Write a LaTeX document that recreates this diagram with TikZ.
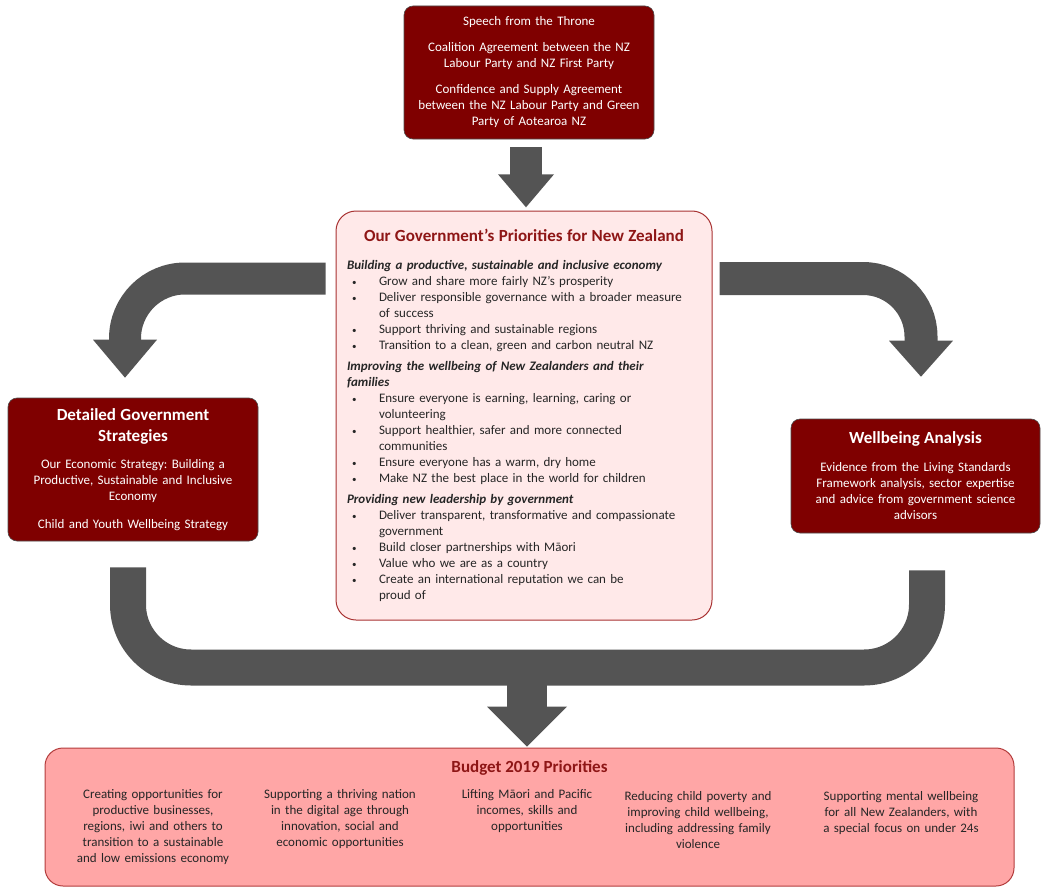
\documentclass[tikz,border=0pt]{standalone}
\usepackage{fontspec}
\setmainfont{Carlito}
\usetikzlibrary{calc}
\usetikzlibrary{positioning}
\frenchspacing

\definecolor{boxred}{HTML}{7F0000}
\definecolor{boxedge}{HTML}{4D4D4D}
\definecolor{prioedge}{HTML}{A83232}
\definecolor{priofill}{HTML}{FFE9E9}
\definecolor{budgetfill}{HTML}{FFA6A6}
\definecolor{budgetedge}{HTML}{B33C3C}
\definecolor{titlered}{HTML}{8E1616}
\definecolor{arrowgray}{HTML}{545454}
\definecolor{bodytext}{HTML}{262626}

\newcommand{\bodyfont}{\fontsize{13}{16}\selectfont}
\newcommand{\headfont}{\fontsize{17}{21}\selectfont\bfseries}
\newcommand{\prioitem}[1]{\par\hangindent=32pt\hangafter=1\noindent\makebox[32pt][l]{\hspace{5pt}{\fontsize{9}{9}\selectfont\textbullet}}#1\par}
\newcommand{\priohead}[1]{\par\noindent\textbf{\textit{#1}}\par}
\newcommand{\downhead}[3]{\fill[arrowgray] ($(#1)+(-#2,0)$) -- ($(#1)+(#2,0)$) -- ($(#1)+(0,#3)$) -- cycle;}

\tikzset{
  darkbox/.style={draw=boxedge, fill=boxred, text=white, rounded corners=9pt,
    line width=0.6pt, align=center, inner xsep=4pt, inner ysep=0pt, font=\bodyfont},
  priobox/.style={draw=prioedge, fill=priofill, text=bodytext, rounded corners=20pt,
    line width=1pt, align=left, text width=354pt, inner xsep=11pt, inner ysep=0pt,
    minimum height=409pt, font=\bodyfont},
  budgetbox/.style={draw=budgetedge, fill=budgetfill, rounded corners=18pt,
    line width=1pt, minimum width=969pt, minimum height=138pt},
  budgetcol/.style={text=bodytext, align=center, text width=180pt, inner sep=0pt,
    anchor=north, font=\bodyfont},
  shaft/.style={draw=arrowgray},
}

\begin{document}
\begin{tikzpicture}[x=1pt,y=-1pt]
  \useasboundingbox (0,0) rectangle (1050,891);

  % sources
  \node[darkbox, text width=242pt, minimum height=133pt] (top) at (529,72.5) {%
    Speech from the Throne\par\vspace{10pt}
    Coalition Agreement between the NZ\\Labour Party and NZ First Party\par\vspace{10pt}
    Confidence and Supply Agreement\\between the NZ Labour Party and Green\\Party of Aotearoa NZ};

  % priorities
  \node[priobox] (prio) at (524,415.5) {%
    {\centering\fontsize{17}{20}\selectfont\bfseries\color{titlered}%
      Our Government’s Priorities for New Zealand\par}
    \vspace{12pt}
    \priohead{Building a productive, sustainable and inclusive economy}
    \prioitem{Grow and share more fairly NZ’s prosperity}
    \prioitem{Deliver responsible governance with a broader measure\newline of success}
    \prioitem{Support thriving and sustainable regions}
    \prioitem{Transition to a clean, green and carbon neutral NZ}
    \vspace{5pt}
    \priohead{Improving the wellbeing of New Zealanders and their\newline families}
    \prioitem{Ensure everyone is earning, learning, caring or\newline volunteering}
    \prioitem{Support healthier, safer and more connected\newline communities}
    \prioitem{Ensure everyone has a warm, dry home}
    \prioitem{Make NZ the best place in the world for children}
    \vspace{5pt}
    \priohead{Providing new leadership by government}
    \prioitem{Deliver transparent, transformative and compassionate\newline government}
    \prioitem{Build closer partnerships with Māori}
    \prioitem{Value who we are as a country}
    \prioitem{Create an international reputation we can be\newline proud of}};

  % strategies and analysis
  \node[darkbox, text width=242pt, minimum height=143pt] (strat) at (133,469.5) {%
    {\headfont Detailed Government\\Strategies\par}
    \vspace{11pt}
    Our Economic Strategy: Building a\\Productive, Sustainable and Inclusive\\Economy\par
    \vspace{12pt}
    Child and Youth Wellbeing Strategy};
  \node[darkbox, text width=241pt, minimum height=114pt] (wb) at (915.5,476) {%
    {\headfont Wellbeing Analysis\par}
    \vspace{12pt}
    Evidence from the Living Standards\\Framework analysis, sector expertise\\and advice from government science\\advisors};

  % budget
  \node[budgetbox] (budget) at (529.5,817) {};
  \node[font=\headfont, text=titlered, inner sep=0pt, below=13pt of budget.north] (budgettitle) {Budget 2019 Priorities};
  \node[budgetcol] (col1) at (153,789) {Creating opportunities for\\productive businesses,\\regions, iwi and others to\\transition to a sustainable\\and low emissions economy};
  \node[budgetcol] (col2) at (340,789) {Supporting a thriving nation\\in the digital age through\\innovation, social and\\economic opportunities};
  \node[budgetcol] (col3) at (527,789) {Lifting Māori and Pacific\\incomes, skills and\\opportunities};
  \node[budgetcol] (col4) at (698,791) {Reducing child poverty and\\improving child wellbeing,\\including addressing family\\violence};
  \node[budgetcol] (col5) at (901,791) {Supporting mental wellbeing\\for all New Zealanders, with\\a special focus on under 24s};

  % arrows
  \coordinate (tstart) at ([xshift=-3pt,yshift=-8pt]top.south);
  \coordinate (thead) at ($(tstart)+(0,27)$);
  \draw[shaft, line width=32pt] (tstart) -- ($(thead)+(0,1)$);
  \downhead{thead}{28}{33}

  \coordinate (lstart) at ($(prio.north west)+(-10,68)$);
  \coordinate (lhead) at ($(strat.north)+(-8,-58)$);
  \draw[shaft, line width=32pt, rounded corners=60pt] (lstart) -| ($(lhead)+(0,1)$);
  \downhead{lhead}{32}{38}

  \coordinate (rstart) at ($(prio.north east)+(7,68)$);
  \coordinate (rhead) at ($(wb.north)+(5.5,-78)$);
  \draw[shaft, line width=33pt, rounded corners=58pt] (rstart) -| ($(rhead)+(0,1)$);
  \downhead{rhead}{32}{36}

  \coordinate (ustartl) at ($(strat.south)+(-5,26)$);
  \coordinate (ustartr) at ($(wb.south)+(11.5,37)$);
  \coordinate (join) at ($(budget.north)+(-2.5,-80)$);
  \coordinate (bhead) at ($(budget.north)+(-2.5,-41)$);
  \draw[shaft, line width=36pt, rounded corners=63pt] (ustartl) |- (join) -| (ustartr);
  \draw[shaft, line width=40pt] (join) -- ($(bhead)+(0,1)$);
  \downhead{bhead}{40}{40}
\end{tikzpicture}
\end{document}
